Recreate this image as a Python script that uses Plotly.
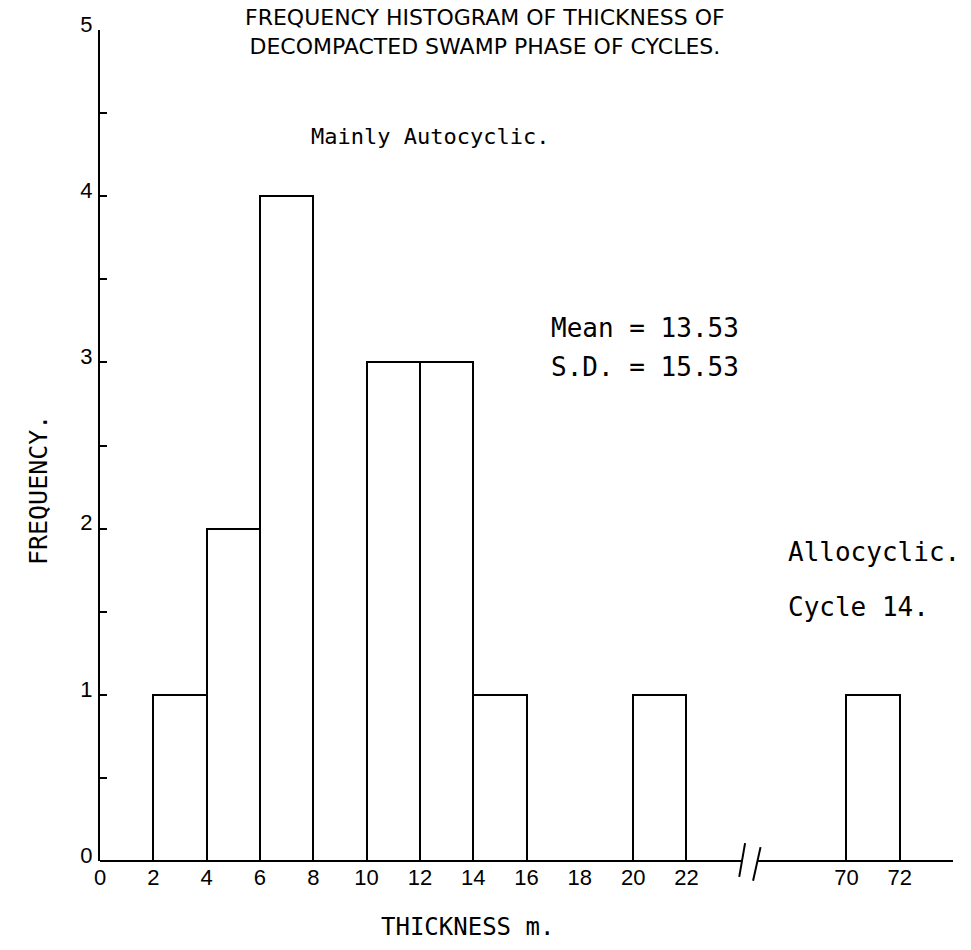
import plotly.graph_objects as go

# ---- data ----
bin_left = [2, 4, 6, 10, 12, 14, 20, 70]      # thickness class lower bound (m)
bin_width = 2
frequency = [1, 2, 4, 3, 3, 1, 1, 1]
x_tick_values = [0, 2, 4, 6, 8, 10, 12, 14, 16, 18, 20, 22, 70, 72]
y_tick_values = [0, 0.5, 1, 1.5, 2, 2.5, 3, 3.5, 4, 4.5, 5]

BREAK_GAP = 42  # axis is broken between 22 and 70


def axis_pos(v):
    """map thickness to position on the broken axis"""
    return v if v <= 24 else v - BREAK_GAP


centers = [axis_pos(b) + bin_width / 2 for b in bin_left]
x_tick_pos = [axis_pos(v) for v in x_tick_values]
y_tick_text = [str(int(v)) if float(v).is_integer() else "" for v in y_tick_values]

MONO = "DejaVu Sans Mono"
SANS = "Liberation Sans, Arial, sans-serif"
PLOT_H = 838.0

fig = go.Figure()
fig.add_trace(go.Bar(
    x=centers, y=frequency, width=bin_width,
    marker=dict(color="white", line=dict(color="black", width=2)),
    showlegend=False, hoverinfo="skip",
))

# broken x axis line (x in axis units, y in paper units so it is not clipped)
ln = dict(color="black", width=2)


def py(px_offset):
    return -px_offset / PLOT_H


fig.add_shape(type="line", xref="x", yref="paper", x0=0, y0=0, x1=24.1, y1=0, line=ln)
fig.add_shape(type="line", xref="x", yref="paper", x0=23.98, y0=py(16), x1=24.2, y1=py(-18), line=ln)
fig.add_shape(type="line", xref="x", yref="paper", x0=24.5, y0=py(20), x1=24.78, y1=py(-14), line=ln)
fig.add_shape(type="line", xref="x", yref="paper", x0=24.66, y0=0, x1=32, y1=0, line=ln)

# title
fig.add_annotation(text="FREQUENCY HISTOGRAM OF THICKNESS OF<br>DECOMPACTED SWAMP PHASE OF CYCLES.",
                   xref="paper", yref="paper", x=(485 - 100) / 853, y=1 + (23 - 25) / PLOT_H,
                   xanchor="center", yanchor="middle", showarrow=False, align="center",
                   font=dict(family="DejaVu Sans", size=22, color="black"))

labels = [
    ("Mainly Autocyclic.", 12.38, 4.36, "center", 22),
    ("Mean = 13.53", 16.85, 3.21, "left", 26),
    ("S.D. = 15.53", 16.85, 2.97, "left", 26),
    ("Allocyclic.", 25.75, 1.86, "left", 26),
    ("Cycle 14.", 25.75, 1.53, "left", 26),
]
for t, x, y, anc, s in labels:
    fig.add_annotation(text=t, x=x, y=y, xref="x", yref="y", xanchor=anc, yanchor="middle",
                       showarrow=False, font=dict(family=MONO, size=s, color="black"))

# axis titles
fig.add_annotation(text="THICKNESS m.", xref="paper", yref="paper",
                   x=(467 - 100) / 853, y=(861 - 928) / PLOT_H,
                   xanchor="center", yanchor="middle", showarrow=False,
                   font=dict(family=MONO, size=24, color="black"))
fig.add_annotation(text="FREQUENCY.", xref="paper", yref="paper",
                   x=(38 - 100) / 853, y=(861 - 487) / PLOT_H, textangle=-90,
                   xanchor="center", yanchor="middle", showarrow=False,
                   font=dict(family=MONO, size=25, color="black"))

fig.update_layout(
    width=971, height=950,
    margin=dict(l=100, r=18, t=23, b=89),
    paper_bgcolor="white", plot_bgcolor="white",
    bargap=0,
    xaxis=dict(
        range=[0, 32], showgrid=False, zeroline=False, showline=False,
        tickmode="array", tickvals=x_tick_pos, ticktext=[str(v) for v in x_tick_values],
        ticks="", tickfont=dict(family=SANS, size=22, color="black"),
        ticklabelstandoff=1,
    ),
    yaxis=dict(
        range=[0, 5], showgrid=False, zeroline=False,
        showline=True, linecolor="black", linewidth=2,
        tickmode="array", tickvals=y_tick_values, ticktext=y_tick_text,
        ticks="inside", ticklen=7, tickwidth=2, tickcolor="black",
        tickfont=dict(family=SANS, size=22, color="black"),
        ticklabelshift=-6, ticklabelstandoff=1,
    ),
)

fig.write_html("out.html")
